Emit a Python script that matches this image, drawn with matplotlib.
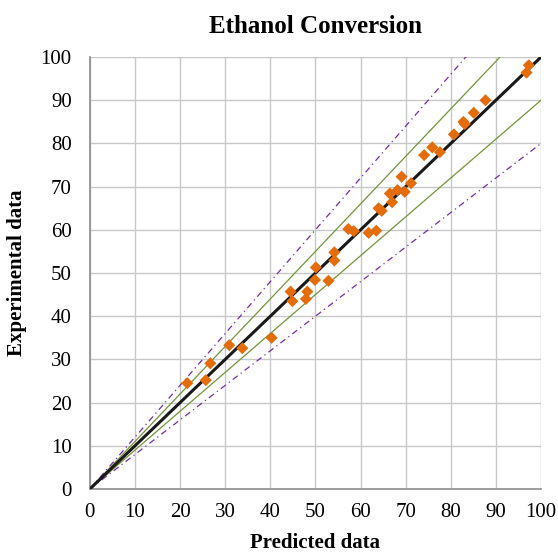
import numpy as np
import matplotlib
matplotlib.use("Agg")
import matplotlib.pyplot as plt

# predicted vs experimental ethanol conversion (%)
predicted = [21.6, 25.7, 26.7, 30.9, 33.8, 40.3, 44.5, 44.9, 47.9, 48.2,
             49.9, 50.1, 52.9, 54.2, 54.2, 57.3, 58.5, 61.8, 63.5, 64.0,
             64.7, 66.5, 67.0, 68.2, 69.1, 69.8, 71.2, 74.1, 75.9, 77.6,
             80.7, 82.8, 83.1, 85.1, 87.7, 96.8, 97.3]
experimental = [24.5, 25.2, 29.1, 33.3, 32.6, 35.0, 45.7, 43.5, 44.0, 45.7,
                48.4, 51.3, 48.2, 52.9, 54.8, 60.2, 59.7, 59.3, 59.8, 65.0,
                64.4, 68.4, 66.4, 69.2, 72.3, 68.8, 70.8, 77.3, 79.1, 78.0,
                82.1, 85.0, 84.5, 87.1, 90.0, 96.4, 98.1]

# deviation bands around the parity line
band_10 = [1.1, 0.9]
band_20 = [1.2, 0.8]

plt.rcParams['font.family'] = ['Liberation Serif', 'DejaVu Serif']

fig = plt.figure(figsize=(5.58, 5.54), dpi=100)
ax = fig.add_axes([0.161, 0.1173, 0.8085, 0.7797])

xs = np.array([0, 100])
for k in band_20:
    ax.plot(xs, k * xs, color='#7030A0', lw=0.9, ls=(0, (5, 3, 1, 3)), zorder=2)
for k in band_10:
    ax.plot(xs, k * xs, color='#77933C', lw=0.9, zorder=2)
ax.plot(xs, xs, color='#1a1a1a', lw=2.2, zorder=3)

ax.scatter(predicted, experimental, marker='D', s=38, color='#E46C0A',
           edgecolors='none', zorder=4)

ax.set_xlim(0, 100)
ax.set_ylim(0, 100)
ax.set_xticks(range(0, 101, 10))
ax.set_yticks(range(0, 101, 10))
ax.grid(True, color='#c8c8c8', lw=1.0)
ax.set_axisbelow(True)
for s in ['top', 'right']:
    ax.spines[s].set_visible(False)
for s in ['left', 'bottom']:
    ax.spines[s].set_color('#8c8c8c')
    ax.spines[s].set_linewidth(1.2)
ax.tick_params(length=0, labelsize=15)
ax.tick_params(axis='y', pad=13)
ax.tick_params(axis='x', pad=10)

ax.set_title('Ethanol Conversion', fontsize=18, fontweight='bold', pad=17)
ax.set_xlabel('Predicted data', fontsize=15, fontweight='bold', va='center')
ax.set_ylabel('Experimental data', fontsize=15, fontweight='bold', va='center')
ax.xaxis.set_label_coords(0.5, -0.125)
ax.yaxis.set_label_coords(-0.162, 0.5)

fig.savefig('out.png', dpi=100)
